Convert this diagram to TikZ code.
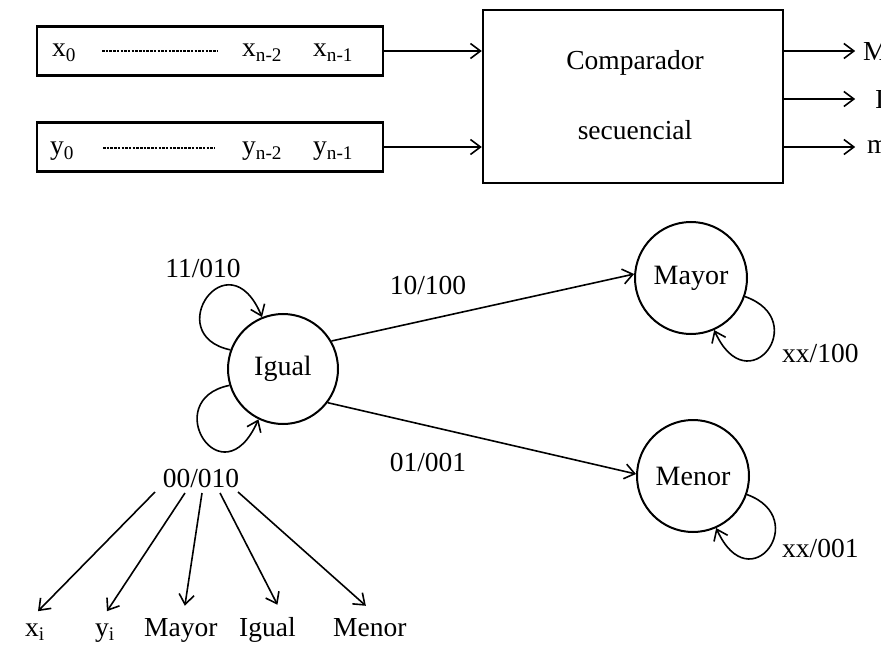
\documentclass[tikz,border=0pt]{standalone}
\usepackage{fontspec}
\setmainfont{Liberation Serif}
\usetikzlibrary{arrows.meta}
\tikzset{
  lbl/.style={inner sep=0pt, font=\fontsize{27.5}{32}\selectfont},
  tipstyle/.style={-{Straight Barb[length=10pt,width=15pt]}},
  wire/.style={line width=1.6pt, tipstyle},
  state/.style={circle, draw, line width=2pt, inner sep=0pt, font=\fontsize{28}{32}\selectfont},
  regbox/.style={draw, line width=2.4pt, minimum width=346pt, minimum height=49pt, inner sep=0pt},
  bigbox/.style={draw, line width=2.4pt, minimum width=300pt, minimum height=173pt, inner sep=0pt},
  dotline/.style={line width=2.2pt, dash pattern=on 2.5pt off 1.2pt},
  botlbl/.style={lbl, anchor=base west, inner ysep=12pt}
}
\begin{document}
\begin{tikzpicture}[x=1pt,y=-1pt]
\useasboundingbox (0,0) rectangle (881,647);
\clip (0,0) rectangle (881,647);
\fill[white] (0,0) rectangle (881,647);

% registers
\node[regbox] (xr) at (210,51) {};
\node[regbox] (yr) at (210,147) {};
\node[lbl, anchor=base west] (x0) at (52,57) {x\textsubscript{0}};
\draw[dotline] (102,51) -- (218,51);
\node[lbl, anchor=base west] (xn2) at (242,57) {x\textsubscript{n-2}};
\node[lbl, anchor=base west] (xn1) at (313,57) {x\textsubscript{n-1}};
\node[lbl, anchor=base west] (y0) at (50,155) {y\textsubscript{0}};
\draw[dotline] (103,148) -- (215,148);
\node[lbl, anchor=base west] (yn2) at (242,155) {y\textsubscript{n-2}};
\node[lbl, anchor=base west] (yn1) at (313,155) {y\textsubscript{n-1}};

% comparator
\node[bigbox] (comp) at (633,96.5) {};
\node[lbl] (t1) at (635,63) {Comparador};
\node[lbl] (t2) at (635,130) {secuencial};
\draw[wire] (xr.east) -- (xr.east -| comp.west);
\draw[wire] (yr.east) -- (yr.east -| comp.west);

% outputs (cut at the edge, as in the reference)
\node[lbl, anchor=west] (oM) at (863,51) {M};
\node[lbl, anchor=west] (oI) at (875,99) {I};
\node[lbl, anchor=west] (om) at (867,147) {m};
\draw[wire] (comp.east |- oM.west) -- ++(71,0);
\draw[wire] (comp.east |- oI.west) -- ++(71,0);
\draw[wire] (comp.east |- om.west) -- ++(71,0);

% states
\node[state, minimum size=110pt] (ig) at (283,369) {Igual};
\node[state, minimum size=112pt] (ma) at (691,278) {Mayor};
\node[state, minimum size=112pt] (me) at (693,476) {Menor};

\draw[wire] (ig.30) -- (ma.176);
\node[lbl] (l10) at (428,285) {10/100};
\draw[wire] (ig.-37) -- (me.178);
\node[lbl] (l01) at (428,462) {01/001};

% self loops of Igual
\draw[wire] (ig.160) .. controls (160,335) and (228,236) .. (ig.112);
\node[lbl] (l11) at (203,268) {11/010};
\draw[wire] (ig.197) .. controls (158,400) and (222,502) .. (ig.244);
\node[lbl] (l00) at (201,478) {00/010};

% self loops of Mayor and Menor
\draw[wire] (ma.-19) .. controls (812,320) and (748,405) .. (ma.-66);
\node[lbl, anchor=west] (lxa) at (782,353) {xx/100};
\draw[wire] (me.-19) .. controls (812,518) and (750,603) .. (me.-66);
\node[lbl, anchor=west] (lxb) at (782,548) {xx/001};

% output legend
\node[botlbl] (bx) at (25,636) {x\textsubscript{i}};
\node[botlbl] (by) at (95,636) {y\textsubscript{i}};
\node[botlbl] (bma) at (144,636) {Mayor};
\node[botlbl] (big) at (239,636) {Igual};
\node[botlbl] (bme) at (333,636) {Menor};
\coordinate (s1) at (155,492);
\coordinate (s2) at (185,493);
\coordinate (s3) at (202,493);
\coordinate (s4) at (220,493);
\coordinate (s5) at (238,492);
\draw[wire] (s1) -- ([xshift=3pt]bx.north);
\draw[wire] (s2) -- ([xshift=2pt]by.north);
\draw[wire] (s3) -- ([xshift=4pt]bma.north);
\draw[wire] (s4) -- ([xshift=10pt]big.north);
\draw[wire] (s5) -- ([xshift=-4pt]bme.north);
\end{tikzpicture}
\end{document}
